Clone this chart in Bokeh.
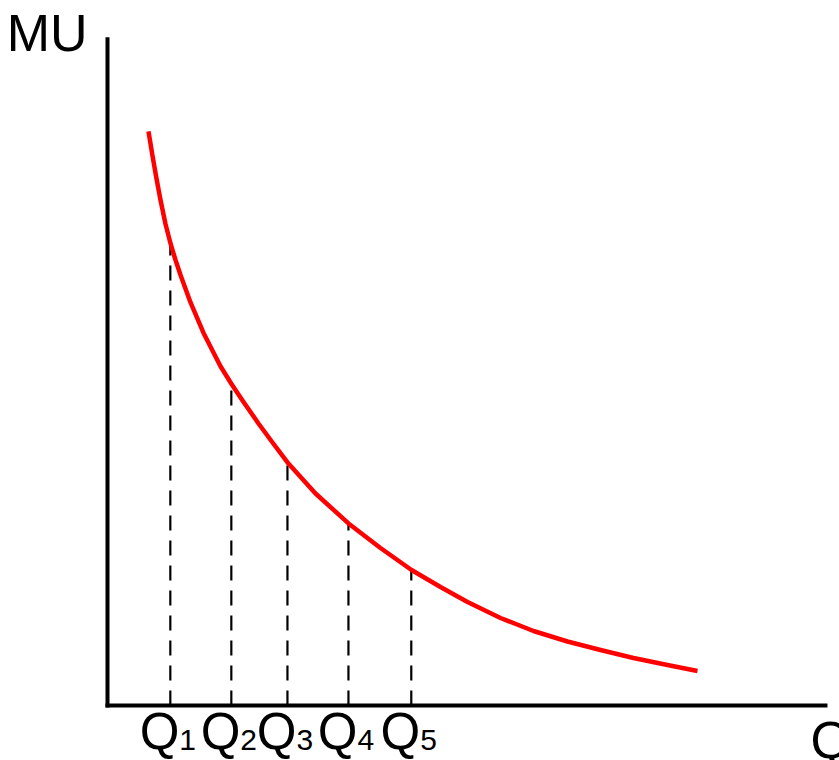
from bokeh.plotting import figure
from bokeh.models import Range1d
from bokeh.core.properties import value
from bokeh.embed import file_html
from bokeh.resources import INLINE

# Marginal utility curve (quantity, MU)
curve_q = [0.672, 0.738, 0.803, 0.869, 0.951, 1.033, 1.115, 1.197, 1.361, 1.574,
           1.852, 2.033, 2.213, 2.475, 2.705, 2.951, 3.410, 3.951, 4.475, 4.984,
           5.459, 5.902, 6.443, 6.984, 7.541, 8.082, 8.623, 9.180, 9.672]
curve_mu = [9.410, 9.008, 8.639, 8.287, 7.893, 7.574, 7.303, 7.057, 6.607, 6.107,
            5.562, 5.270, 5.000, 4.623, 4.311, 3.984, 3.475, 2.984, 2.582, 2.221,
            1.943, 1.697, 1.434, 1.221, 1.049, 0.910, 0.779, 0.664, 0.566]

# Marked quantities and the MU at each
q_marks = [1.03, 2.03, 2.95, 3.95, 4.98]
mu_marks = [7.57, 5.27, 3.98, 2.98, 2.22]
q_names = ["Q", "Q", "Q", "Q", "Q"]
q_subs = ["1", "2", "3", "4", "5"]

# Axis extents
axis_x_end = 11.77
axis_y_end = 10.92
x_label = "Q"
y_label = "MU"

FONT = value("Liberation Sans")

p = figure(width=839, height=760, output_backend="svg", toolbar_location=None,
           x_range=Range1d(-1.754, 12.0), y_range=Range1d(-0.902, 11.557),
           min_border=0, outline_line_color=None)
p.axis.visible = False
p.grid.visible = False
p.background_fill_color = "white"
p.border_fill_color = "white"

# dashed drop lines
p.segment(x0=q_marks, y0=[0] * len(q_marks), x1=q_marks, y1=mu_marks,
          line_color="black", line_width=2.2, line_dash="15 10")

# axes
p.segment(x0=[0, 0], y0=[0, 0], x1=[0, axis_x_end], y1=[axis_y_end, 0],
          line_color="black", line_width=4, line_cap="square")

# MU curve
p.line(curve_q, curve_mu, line_color="#ff0000", line_width=4.5, line_join="round")

# tick labels Q with subscripts
p.text(x=q_marks, y=[0] * len(q_marks), text=q_names, text_font=FONT,
       text_font_size="51px", text_align="right", text_baseline="alphabetic",
       x_offset=9, y_offset=26, text_color="black")
p.text(x=q_marks, y=[0] * len(q_marks), text=q_subs, text_font=FONT,
       text_font_size="30px", text_align="left", text_baseline="alphabetic",
       x_offset=9, y_offset=35, text_color="black")

# axis titles
p.text(x=[0], y=[axis_y_end], text=[y_label], text_font=FONT,
       text_font_size="52px", text_align="right", text_baseline="alphabetic",
       x_offset=-20, y_offset=-6, text_color="black")
p.text(x=[axis_x_end], y=[0], text=[x_label], text_font=FONT,
       text_font_size="52px", text_align="left", text_baseline="alphabetic",
       x_offset=-15, y_offset=35, text_color="black")

open("out.html", "w").write(file_html(p, INLINE))
